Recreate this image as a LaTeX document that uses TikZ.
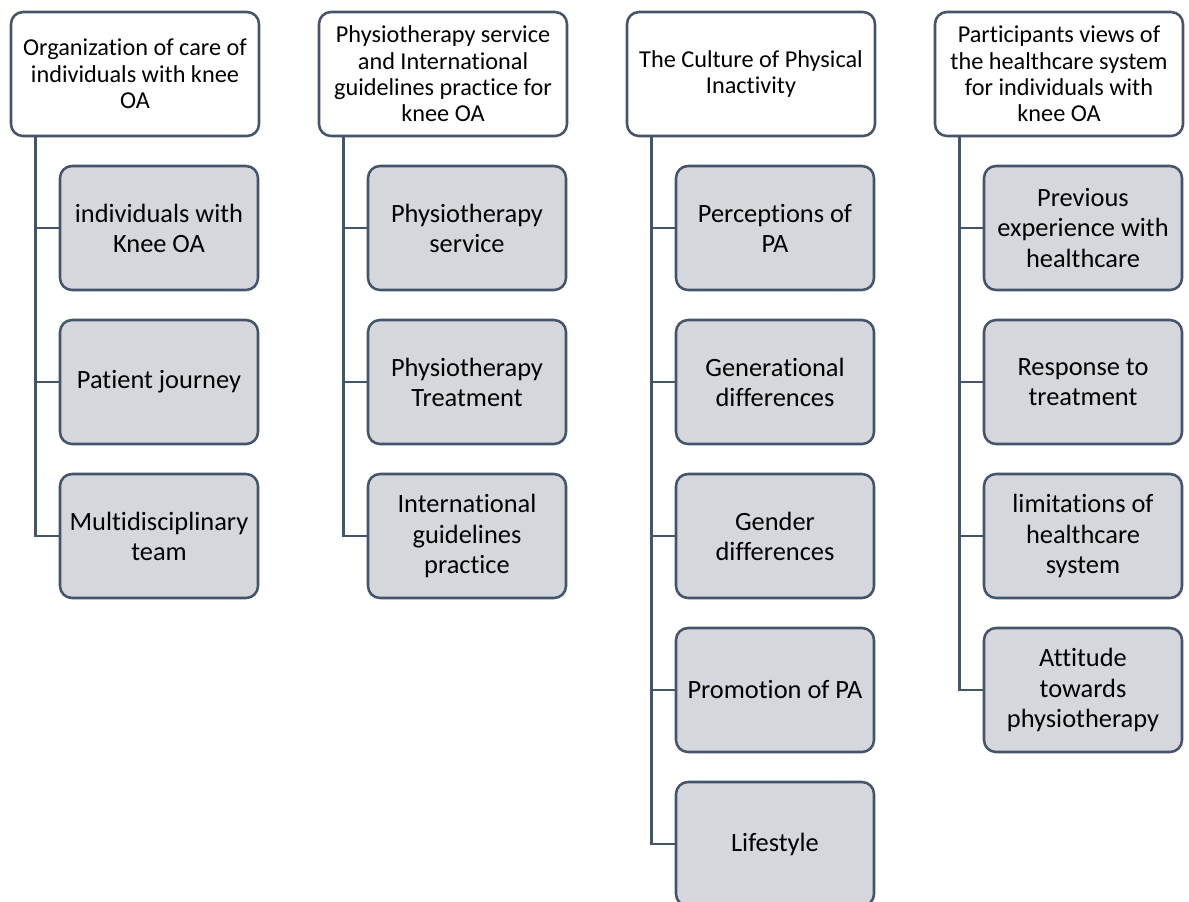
\documentclass[tikz,border=0pt]{standalone}
\usepackage{fontspec}
\setmainfont{Carlito}[Ligatures={NoCommon}]
\definecolor{edge}{HTML}{44546A}
\definecolor{boxfill}{HTML}{D5D7DC}
\begin{document}
\begin{tikzpicture}[x=0.75pt,y=-0.75pt,
  theme/.style={draw=edge, line width=1.9pt, rounded corners=9pt, fill=white,
    minimum width=186pt, minimum height=93pt, align=center, inner sep=2pt,
    font=\fontsize{18.2}{19.8}\selectfont, text=black},
  topic/.style={draw=edge, line width=1.9pt, rounded corners=9pt, fill=boxfill,
    minimum width=148.5pt, minimum height=93pt, align=center, inner sep=2pt,
    font=\fontsize{19.8}{22.6}\selectfont, text=black},
  link/.style={draw=edge, line width=1.9pt}]
\useasboundingbox (0,0) rectangle (1189,901);

% column heads
\node[theme] (t1) at (135,74) {Organization of care of\\individuals with knee\\OA};
\node[theme] (t2) at (443,74) {Physiotherapy service\\and International\\guidelines practice for\\knee OA};
\node[theme] (t3) at (751,74) {The Culture of Physical\\Inactivity};
\node[theme] (t4) at (1059,74) {Participants views of\\the healthcare system\\for individuals with\\knee OA};

% column 1
\node[topic] (a1) at (159,228) {individuals with\\Knee OA};
\node[topic] (a2) at (159,382) {Patient journey};
\node[topic] (a3) at (159,536) {Multidisciplinary\\team};

% column 2
\node[topic] (b1) at (467,228) {Physiotherapy\\service};
\node[topic] (b2) at (467,382) {Physiotherapy\\Treatment};
\node[topic] (b3) at (467,536) {International\\guidelines\\practice};

% column 3
\node[topic] (c1) at (775,228) {Perceptions of\\PA};
\node[topic] (c2) at (775,382) {Generational\\differences};
\node[topic] (c3) at (775,536) {Gender\\differences};
\node[topic] (c4) at (775,690) {Promotion of PA};
\node[topic] (c5) at (775,844) {Lifestyle};

% column 4
\node[topic] (d1) at (1083,228) {Previous\\experience with\\healthcare};
\node[topic] (d2) at (1083,382) {Response to\\treatment};
\node[topic] (d3) at (1083,536) {limitations of\\healthcare\\system};
\node[topic] (d4) at (1083,690) {Attitude\\towards\\physiotherapy};

% elbow connectors from each head down to its topics
\foreach \h/\list in {t1/{a1,a2,a3}, t2/{b1,b2,b3}, t3/{c1,c2,c3,c4,c5}, t4/{d1,d2,d3,d4}}{
  \foreach \c in \list {
    \draw[link] ([xshift=19.5pt]\h.south west) |- (\c.west);
  }
}
\end{tikzpicture}
\end{document}
